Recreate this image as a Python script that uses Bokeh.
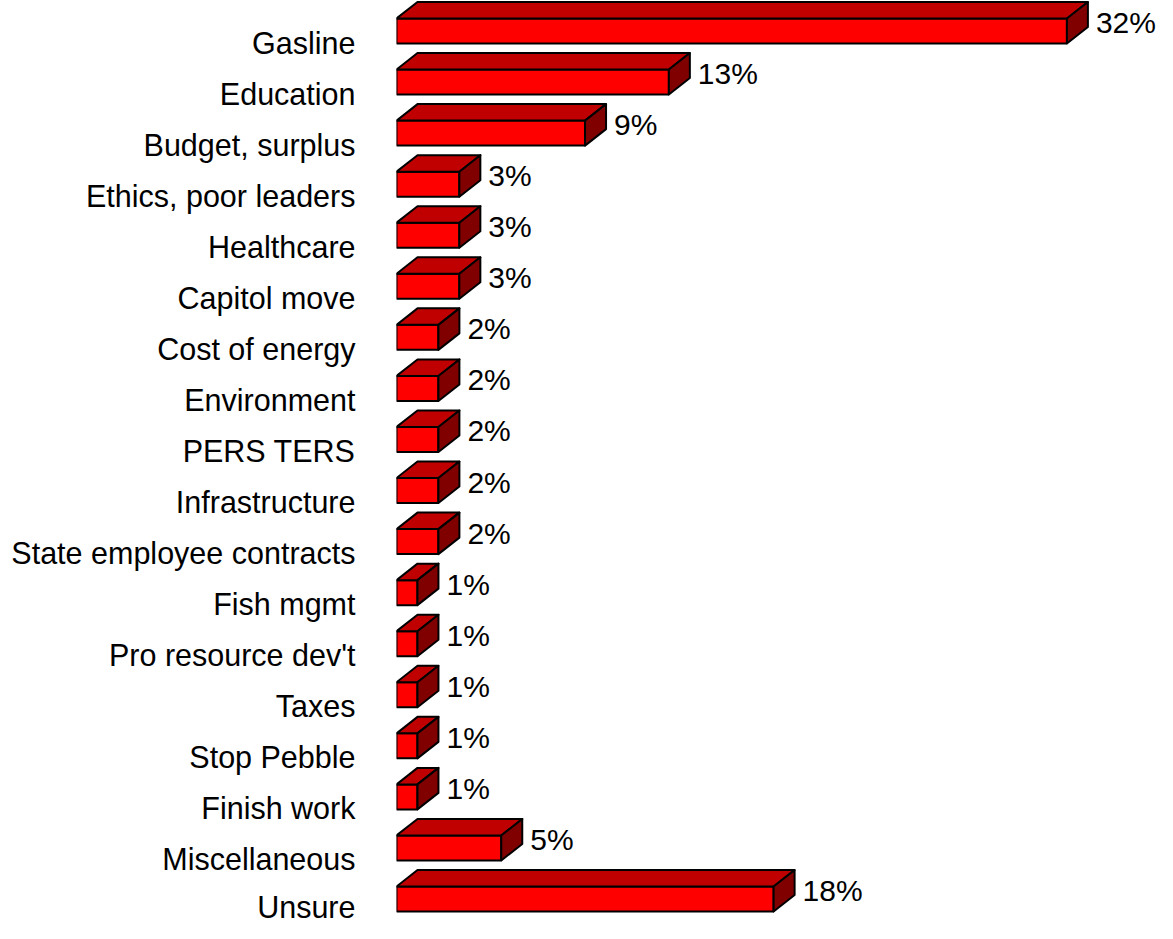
from bokeh.plotting import figure
from bokeh.models import Range1d, FixedTicker, ColumnDataSource
from bokeh.embed import file_html
from bokeh.resources import INLINE
from bokeh.core.properties import value

categories = ["Gasline", "Education", "Budget, surplus", "Ethics, poor leaders",
              "Healthcare", "Capitol move", "Cost of energy", "Environment",
              "PERS TERS", "Infrastructure", "State employee contracts",
              "Fish mgmt", "Pro resource dev't", "Taxes", "Stop Pebble",
              "Finish work", "Miscellaneous", "Unsure"]
values = [32, 13, 9, 3, 3, 3, 2, 2, 2, 2, 2, 1, 1, 1, 1, 1, 5, 18]
labels = [f"{v}%" for v in values]

W, H = 1157, 923
LEFT = 396
PX_X = 20.95     # px per percent
PX_Y = 51.06     # px per category
TICK0 = 42.0     # px of first category tick from top
frame_w = W - LEFT
x_end = frame_w / PX_X
y_top = -TICK0 / PX_Y
y_bot = y_top + H / PX_Y

p = figure(width=W, height=H, output_backend="svg", toolbar_location=None,
           x_range=Range1d(0, x_end), y_range=Range1d(y_bot, y_top),
           min_border_left=LEFT, min_border_right=0, min_border_top=0,
           min_border_bottom=0)
p.outline_line_color = None
p.xaxis.visible = False
p.xgrid.visible = False
p.ygrid.visible = False
p.background_fill_color = "white"

ax = p.yaxis[0]
ax.ticker = FixedTicker(ticks=list(range(len(categories))))
ax.major_label_overrides = {i: c for i, c in enumerate(categories)}
ax.axis_line_color = None
ax.major_tick_line_color = None
ax.minor_tick_line_color = None
ax.major_tick_out = 0
ax.major_tick_in = 0
ax.major_label_standoff = 41
ax.major_label_text_font = "Liberation Sans"
ax.major_label_text_font_size = "30.5px"
ax.major_label_text_color = "black"

# 3D geometry (in data units)
shift = 11.5 / PX_Y      # bar centre above tick
hh = 12.5 / PX_Y         # half height of front face
dx = 21.0 / PX_X
dy = 16.5 / PX_Y

centers = [i - shift for i in range(len(categories))]

p.quad(left=[0] * len(values), right=values,
       top=[c - hh for c in centers], bottom=[c + hh for c in centers],
       fill_color="#FF0000", line_color="black", line_width=2)

top_xs = [[0, v, v + dx, dx] for v in values]
top_ys = [[c - hh, c - hh, c - hh - dy, c - hh - dy] for c in centers]
p.patches(top_xs, top_ys, fill_color="#C00000", line_color="black",
          line_width=2, line_join="round")

side_xs = [[v, v + dx, v + dx, v] for v in values]
side_ys = [[c - hh, c - hh - dy, c + hh - dy, c + hh] for c in centers]
p.patches(side_xs, side_ys, fill_color="#800000", line_color="black",
          line_width=2, line_join="round")

src = ColumnDataSource(dict(x=[v + dx + 8.0 / PX_X for v in values],
                            y=[c - 8.5 / PX_Y for c in centers],
                            t=labels))
p.text(x="x", y="y", text="t", source=src, text_font=value("Liberation Sans"),
       text_font_size="30px", text_baseline="middle", text_align="left",
       text_color="black")

open("out.html", "w").write(file_html(p, INLINE))
